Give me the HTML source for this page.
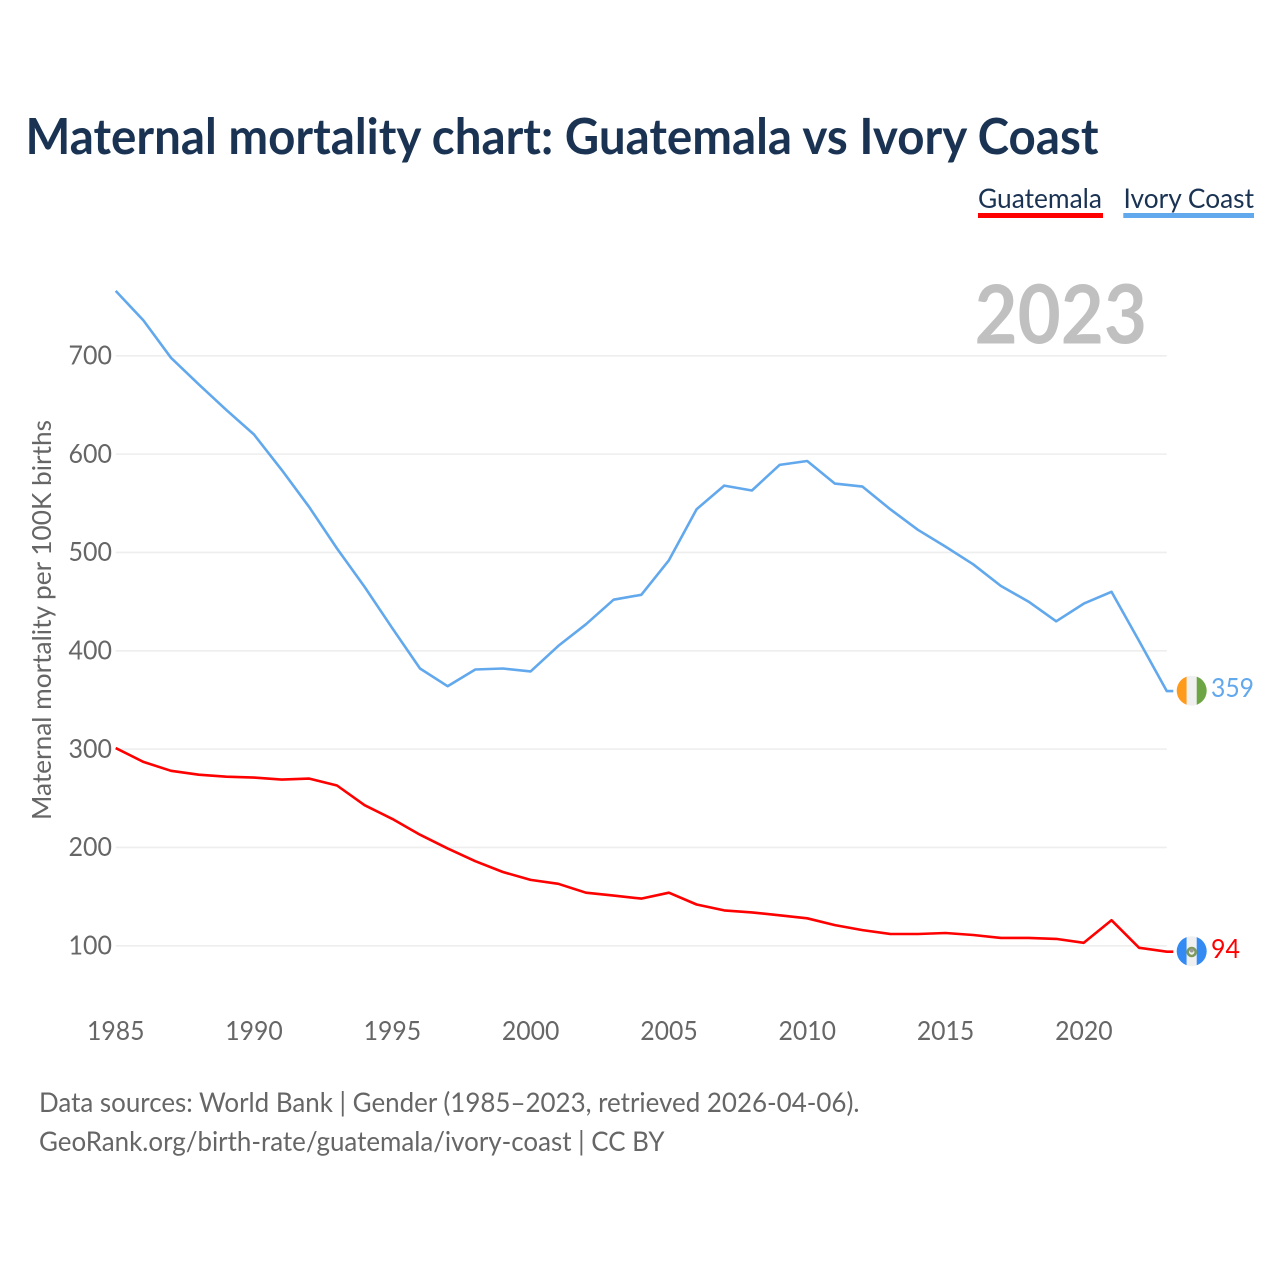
<!DOCTYPE html>
<html lang="en">
<head>
<meta charset="utf-8">
<title>Maternal mortality chart: Guatemala vs Ivory Coast</title>
<style>
html,body{margin:0;padding:0;background:#fff;width:1280px;height:1280px;overflow:hidden}
svg{display:block;font-family:"Lato","Carlito","Liberation Sans",sans-serif}
</style>
</head>
<body>
<svg id="chart" xmlns="http://www.w3.org/2000/svg" width="1280" height="1280" viewBox="0 0 1280 1280">
  <defs>
    <clipPath id="clip-ci"><circle cx="1191.7" cy="690.7" r="15"/></clipPath>
    <clipPath id="clip-gt"><circle cx="1191.7" cy="951.2" r="15"/></clipPath>
  </defs>
  <rect x="0" y="0" width="1280" height="1280" fill="#fff"/>
  <text x="25.5" y="154" font-size="50" font-weight="700" fill="#1a3353" textLength="1073" lengthAdjust="spacingAndGlyphs">Maternal mortality chart: Guatemala vs Ivory Coast</text>

  <g>
    <text x="978" y="208" font-size="27" fill="#1a3353" textLength="124" lengthAdjust="spacingAndGlyphs">Guatemala</text>
    <rect x="978" y="213" width="125" height="5" fill="#ff0000"/>
  </g>
  <g>
    <text x="1123.5" y="208" font-size="27" fill="#1a3353" textLength="130.5" lengthAdjust="spacingAndGlyphs">Ivory Coast</text>
    <rect x="1123.3" y="213" width="130.7" height="5" fill="#62a8ec"/>
  </g>

  <g id="grid"></g>
  <g id="y-axis"></g>
  <g id="x-axis"></g>

  <text transform="translate(51,620) rotate(-90)" text-anchor="middle" font-size="26" fill="#666" textLength="400" lengthAdjust="spacingAndGlyphs">Maternal mortality per 100K births</text>

  <text x="974.5" y="343.5" font-size="81" font-weight="700" fill="#c0c0c0" textLength="172.5" lengthAdjust="spacingAndGlyphs">2023</text>

  <g id="series"></g>

  <g clip-path="url(#clip-ci)">
    <rect x="1176" y="675" width="10.7" height="32" fill="#ff9a1a"/>
    <rect x="1186.7" y="675" width="10" height="32" fill="#f0f0f0"/>
    <rect x="1196.7" y="675" width="11" height="32" fill="#6da544"/>
  </g>
  <g clip-path="url(#clip-gt)">
    <rect x="1176" y="935" width="10.7" height="32" fill="#338af3"/>
    <rect x="1186.7" y="935" width="10" height="32" fill="#f0f0f0"/>
    <rect x="1196.7" y="935" width="11" height="32" fill="#338af3"/>
    <circle cx="1191.7" cy="952" r="4" fill="none" stroke="#7d9a5a" stroke-width="2.6"/>
    <circle cx="1191.7" cy="950.5" r="2" fill="#999"/>
  </g>

  <text id="end-ci" x="1211" y="697" font-size="26" fill="#62a8ec" textLength="43" lengthAdjust="spacingAndGlyphs"></text>
  <text id="end-gt" x="1211" y="958" font-size="26" fill="#ff0000" textLength="29" lengthAdjust="spacingAndGlyphs"></text>

  <text x="39" y="1112" font-size="27" fill="#666" textLength="820.5" lengthAdjust="spacingAndGlyphs">Data sources: World Bank | Gender (1985–2023, retrieved 2026-04-06).</text>
  <text x="39" y="1151" font-size="27" fill="#666" textLength="625.5" lengthAdjust="spacingAndGlyphs">GeoRank.org/birth-rate/guatemala/ivory-coast | CC BY</text>
</svg>
<script>
const years = [1985,1986,1987,1988,1989,1990,1991,1992,1993,1994,1995,1996,1997,1998,1999,2000,2001,2002,2003,2004,2005,2006,2007,2008,2009,2010,2011,2012,2013,2014,2015,2016,2017,2018,2019,2020,2021,2022,2023];
const guatemala = [301,287,278,274,272,271,269,270,263,243,229,213,199,186,175,167,163,154,151,148,154,142,136,134,131,128,121,116,112,112,113,111,108,108,107,103,126,98,94];
const ivoryCoast = [766,736,698,671,645,620,584,546,504,465,423,382,364,381,382,379,405,427,452,457,492,544,568,563,589,593,570,567,544,523,506,488,466,450,430,448,460,410,359];
const yTicks = [100,200,300,400,500,600,700];
const xTicks = [1985,1990,1995,2000,2005,2010,2015,2020];

const NS = 'http://www.w3.org/2000/svg';
function xScale(year) { return 115.7 + (year - 1985) * (1166.8 - 115.7) / (2023 - 1985); }
function yScale(value) { return 945.8 - (value - 100) * (945.8 - 355.8) / (700 - 100); }

const gridGroup = document.getElementById('grid');
const yAxisGroup = document.getElementById('y-axis');
const xAxisGroup = document.getElementById('x-axis');
const seriesGroup = document.getElementById('series');

yTicks.forEach(function (tick) {
  const line = document.createElementNS(NS, 'line');
  
  
  line.setAttribute('x1', xScale(1985));
  line.setAttribute('x2', xScale(2023));
  line.setAttribute('y1', yScale(tick));
  line.setAttribute('y2', yScale(tick));
  line.setAttribute('stroke', '#eeeeee');
  line.setAttribute('stroke-width', '1.6');
  gridGroup.appendChild(line);

  const label = document.createElementNS(NS, 'text');
  
  
  label.setAttribute('x', 68.5);
  label.setAttribute('y', yScale(tick) + 8.7);
  label.setAttribute('font-size', '26');
  label.setAttribute('fill', '#666');
  label.setAttribute('textLength', '43.5');
  label.setAttribute('lengthAdjust', 'spacingAndGlyphs');
  label.textContent = tick;
  yAxisGroup.appendChild(label);
});

xTicks.forEach(function (tick) {
  const label = document.createElementNS(NS, 'text');
  
  
  label.setAttribute('x', xScale(tick) - 28.7);
  label.setAttribute('y', 1040);
  label.setAttribute('font-size', '26');
  label.setAttribute('fill', '#666');
  label.setAttribute('textLength', '57.5');
  label.setAttribute('lengthAdjust', 'spacingAndGlyphs');
  label.textContent = tick;
  xAxisGroup.appendChild(label);
});

function linePoints(values) {
  const pts = values.map(function (v, i) { return xScale(years[i]).toFixed(1) + ',' + yScale(v).toFixed(1); });
  const last = values[values.length - 1];
  pts.push((xScale(years[years.length - 1]) + 6.5).toFixed(1) + ',' + yScale(last).toFixed(1));
  return pts.join(' ');
}

const ivoryLine = document.createElementNS(NS, 'polyline');


ivoryLine.setAttribute('points', linePoints(ivoryCoast));
ivoryLine.setAttribute('fill', 'none');
ivoryLine.setAttribute('stroke', '#62a8ec');
ivoryLine.setAttribute('stroke-width', '2.6');
ivoryLine.setAttribute('stroke-linejoin', 'round');
seriesGroup.appendChild(ivoryLine);

const guatemalaLine = document.createElementNS(NS, 'polyline');


guatemalaLine.setAttribute('points', linePoints(guatemala));
guatemalaLine.setAttribute('fill', 'none');
guatemalaLine.setAttribute('stroke', '#ff0000');
guatemalaLine.setAttribute('stroke-width', '2.6');
guatemalaLine.setAttribute('stroke-linejoin', 'round');
seriesGroup.appendChild(guatemalaLine);

document.getElementById('end-ci').textContent = ivoryCoast[ivoryCoast.length - 1];
document.getElementById('end-gt').textContent = guatemala[guatemala.length - 1];
</script>
</body>
</html>
